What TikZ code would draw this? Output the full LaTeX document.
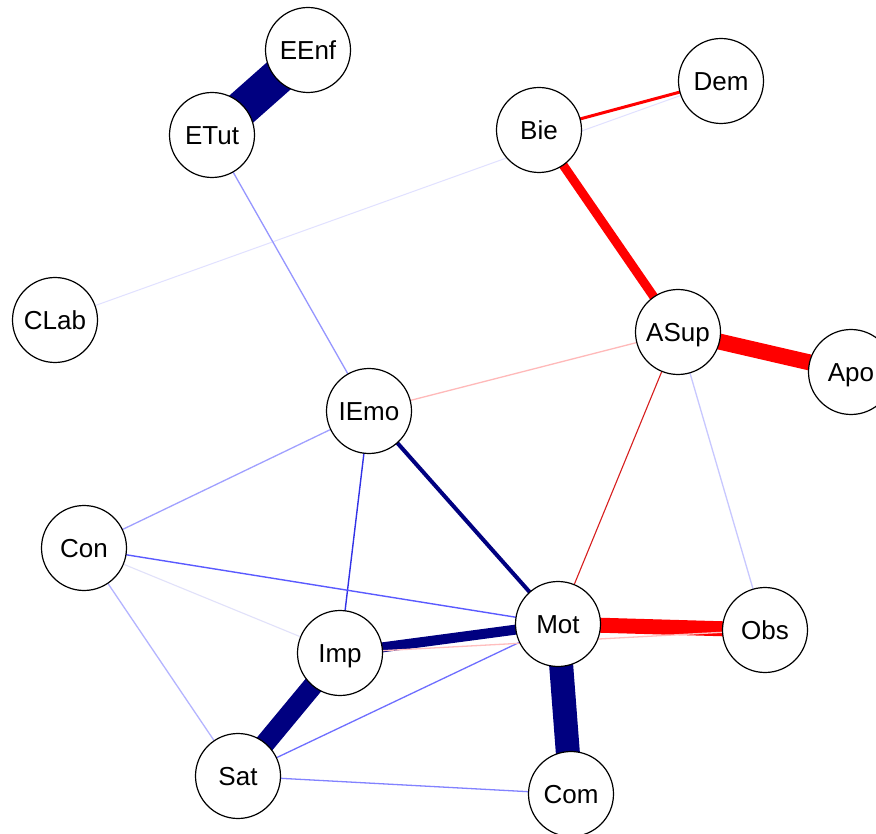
\documentclass[tikz,border=0pt]{standalone}
\usepackage{fontspec}
\setmainfont{Liberation Sans}
\usetikzlibrary{backgrounds}
\definecolor{navyc}{RGB}{0,0,128}
\definecolor{redc}{RGB}{255,0,0}
\definecolor{cETIE}{RGB}{150,150,255}
\definecolor{cCLDE}{RGB}{225,225,255}
\definecolor{cASIE}{RGB}{255,185,185}
\definecolor{cASMO}{RGB}{215,30,30}
\definecolor{cASOB}{RGB}{200,200,255}
\definecolor{cIECO}{RGB}{160,160,255}
\definecolor{cIEIM}{RGB}{50,50,230}
\definecolor{cCOMO}{RGB}{90,90,255}
\definecolor{cCOIM}{RGB}{225,225,250}
\definecolor{cCOSA}{RGB}{180,180,255}
\definecolor{cIMOB}{RGB}{255,190,190}
\definecolor{cSAMO}{RGB}{110,110,255}
\definecolor{cSACO}{RGB}{130,130,255}
\tikzset{
  vnode/.style={circle, draw=black, line width=1.2pt, fill=white, minimum size=85pt, inner sep=0pt,
    font=\fontsize{26}{30}\selectfont, text height=19pt, text depth=0pt},
  edg/.style={line width=#1}
}
\begin{document}
\begin{tikzpicture}[x=1pt,y=-1pt]
\useasboundingbox (0,0) rectangle (876,834);
% nodes
\node[vnode] (EEnf) at (308,50) {EEnf};
\node[vnode] (ETut) at (212,135) {ETut};
\node[vnode] (Dem) at (721,81) {Dem};
\node[vnode] (Bie) at (539,130) {Bie};
\node[vnode] (CLab) at (55,320) {CLab};
\node[vnode] (ASup) at (678,332) {ASup};
\node[vnode] (Apo) at (851,372) {Apo};
\node[vnode] (IEmo) at (369,411) {IEmo};
\node[vnode] (Con) at (84,548) {Con};
\node[vnode] (Mot) at (558,624) {Mot};
\node[vnode] (Obs) at (765,630) {Obs};
\node[vnode] (Imp) at (340,653) {Imp};
\node[vnode] (Sat) at (238,776) {Sat};
\node[vnode] (Com) at (571,794) {Com};
\begin{pgfonlayer}{background}
\fill[white] (0,0) rectangle (876,834);
% thin edges
\draw[cCLDE, edg=1pt] (CLab.center) -- (Dem.center);
\draw[cETIE, edg=1.3pt] (ETut.center) -- (IEmo.center);
\draw[cASIE, edg=1.3pt] (ASup.center) -- (IEmo.center);
\draw[cASMO, edg=1.1pt] (ASup.center) -- (Mot.center);
\draw[cASOB, edg=1.3pt] (ASup.center) -- (Obs.center);
\draw[cIECO, edg=1.3pt] (IEmo.center) -- (Con.center);
\draw[cIEIM, edg=1.4pt] (IEmo.center) -- (Imp.center);
\draw[cCOMO, edg=1.4pt] (Con.center) -- (Mot.center);
\draw[cCOIM, edg=1.1pt] (Con.center) -- (Imp.center);
\draw[cCOSA, edg=1.3pt] (Con.center) -- (Sat.center);
\draw[cSAMO, edg=1.3pt] (Sat.center) -- (Mot.center);
\draw[cSACO, edg=1.3pt] (Sat.center) -- (Com.center);
% thick edges
\draw[navyc, edg=36pt] (EEnf.center) -- (ETut.center);
\draw[redc, edg=3pt] (Dem.center) -- (Bie.center);
\draw[redc, edg=9pt] (Bie.center) -- (ASup.center);
\draw[redc, edg=16pt] (ASup.center) -- (Apo.center);
\draw[navyc, edg=4pt] (IEmo.center) -- (Mot.center);
\draw[redc, edg=15pt] (Mot.center) -- (Obs.center);
\draw[navyc, edg=10pt] (Imp.center) -- (Mot.center);
\draw[navyc, edg=24pt] (Mot.center) -- (Com.center);
\draw[navyc, edg=20pt] (Imp.center) -- (Sat.center);
\draw[cIMOB, edg=1.3pt] (Imp.center) -- (Obs.center);
\end{pgfonlayer}
\end{tikzpicture}
\end{document}
